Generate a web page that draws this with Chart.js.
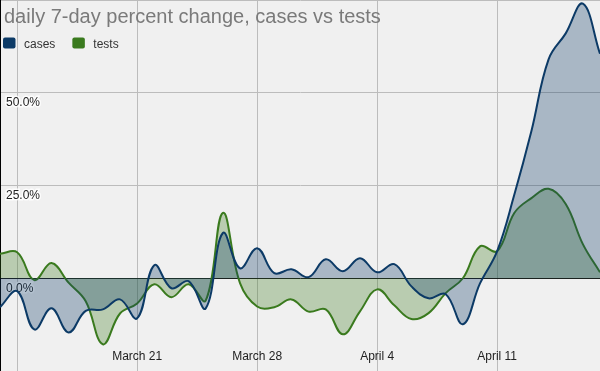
<!DOCTYPE html>
<html>
<head>
<meta charset="utf-8">
<script src="https://cdn.jsdelivr.net/npm/chart.js@4"></script>
<style>
  html, body { margin: 0; padding: 0; background: #f0f0f0; }
  #wrap { width: 600px; height: 371px; position: relative; }
</style>
</head>
<body>
<div id="wrap"><canvas id="c" width="600" height="371"></canvas></div>
<script>
const chartTitle = 'daily 7-day percent change, cases vs tests';

const days = [
  'March 13','March 14','March 15','March 16','March 17','March 18','March 19',
  'March 20','March 21','March 22','March 23','March 24','March 25','March 26',
  'March 27','March 28','March 29','March 30','March 31','April 1','April 2',
  'April 3','April 4','April 5','April 6','April 7','April 8','April 9',
  'April 10','April 11','April 12','April 13','April 14','April 15','April 16',
  'April 17'
];

const weeklyTicks = ['March 14','March 21','March 28','April 4','April 11'];
const hiddenTickLabels = ['March 14'];
const yTickLabels = [0, 25, 50];

const cases = [
  -7.8, -3.5, -13.8, -8.1, -14.6, -8.8, -8.4,
  -5.7, -10.8, 3.5, -2.7, -0.8, -8.1, 12.2,
  2.7, 8.1, 1.4, 2.4, 0.3, 5.1, 1.9,
  5.4, 1.6, 3.8, -2.2, -5.4, -4.3, -12.4,
  -1.4, 7.3, 22.5, 39.7, 59, 66, 74,
  60.5
];

const tests = [
  6.6, 7.0, -0.5, 4.1, -1.2, -6.2, -17.8,
  -9.5, -6.8, -1.6, -5.1, -1.6, -6.0, 17.6,
  -1.3, -7.6, -7.8, -5.7, -9.0, -8.4, -15.1,
  -8.9, -3.0, -7.3, -11.0, -9.4, -4.0, 0,
  8.6, 7.3, 17.6, 21.6, 24.1, 20.0, 9.2,
  1.6
];

const FONT = "'Liberation Sans', Arial, sans-serif";

function zeroPad(axis) {
  axis.paddingTop = 0; axis.paddingBottom = 0;
  axis.paddingLeft = 0; axis.paddingRight = 0;
}

const overlayPlugin = {
  id: 'overlayTitleLegend',
  afterDraw(chart) {
    const ctx = chart.ctx;
    ctx.save();
    ctx.font = '20px ' + FONT;
    ctx.fillStyle = '#7a7a7a';
    ctx.textAlign = 'left';
    ctx.textBaseline = 'alphabetic';
    ctx.fillText(chartTitle, 4, 23);

    ctx.font = '12px ' + FONT;
    let x = 3;
    chart.data.datasets.forEach(ds => {
      ctx.fillStyle = ds.borderColor;
      ctx.beginPath();
      if (ctx.roundRect) ctx.roundRect(x, 37.5, 12.5, 11, 2); else ctx.rect(x, 37.5, 12.5, 11);
      ctx.fill();
      ctx.fillStyle = '#333';
      ctx.fillText(ds.label, x + 21, 47.5);
      x += 21 + ctx.measureText(ds.label).width + 17;
    });
    ctx.restore();
  }
};

new Chart(document.getElementById('c'), {
  type: 'line',
  data: {
    labels: days,
    datasets: [
      {
        label: 'cases',
        data: cases,
        borderColor: '#0c3a66',
        backgroundColor: 'rgba(12,58,102,0.31)',
        borderWidth: 2,
        pointRadius: 0,
        tension: 0.4,
        fill: 'origin'
      },
      {
        label: 'tests',
        data: tests,
        borderColor: '#3a7a1e',
        backgroundColor: 'rgba(58,122,30,0.30)',
        borderWidth: 2,
        pointRadius: 0,
        tension: 0.4,
        fill: 'origin'
      }
    ]
  },
  options: {
    responsive: false,
    animation: false,
    layout: { padding: 0 },
    plugins: {
      legend: { display: false },
      title: { display: false },
      tooltip: { enabled: false }
    },
    scales: {
      x: {
        type: 'category',
        afterFit(axis) { axis.height = 0; zeroPad(axis); },
        border: { display: false },
        grid: {
          drawTicks: false,
          color: (c) => (weeklyTicks.includes(days[c.index]) ? '#bcbcbc' : 'rgba(0,0,0,0)'),
          lineWidth: 1
        },
        ticks: {
          autoSkip: false,
          maxRotation: 0,
          mirror: true,
          padding: 7,
          color: '#222',
          font: { family: FONT, size: 12 },
          callback: (v, i) => {
            const d = days[i];
            return (weeklyTicks.includes(d) && !hiddenTickLabels.includes(d)) ? d : '';
          }
        }
      },
      y: {
        min: -25,
        max: 75,
        afterFit(axis) { axis.width = 0; zeroPad(axis); },
        border: { display: true, color: '#000', width: 1 },
        grid: {
          drawTicks: false,
          color: (c) => (c.tick && c.tick.value === 0 ? '#1a1a1a' : '#bcbcbc'),
          lineWidth: 1
        },
        ticks: {
          stepSize: 25,
          mirror: true,
          padding: 6,
          labelOffset: 10,
          color: '#222',
          textStrokeColor: 'rgba(255,255,255,0.85)',
          textStrokeWidth: 3,
          font: { family: FONT, size: 12 },
          callback: (v) => (yTickLabels.includes(v) ? v.toFixed(1) + '%' : '')
        }
      }
    }
  },
  plugins: [overlayPlugin]
});
</script>
</body>
</html>
